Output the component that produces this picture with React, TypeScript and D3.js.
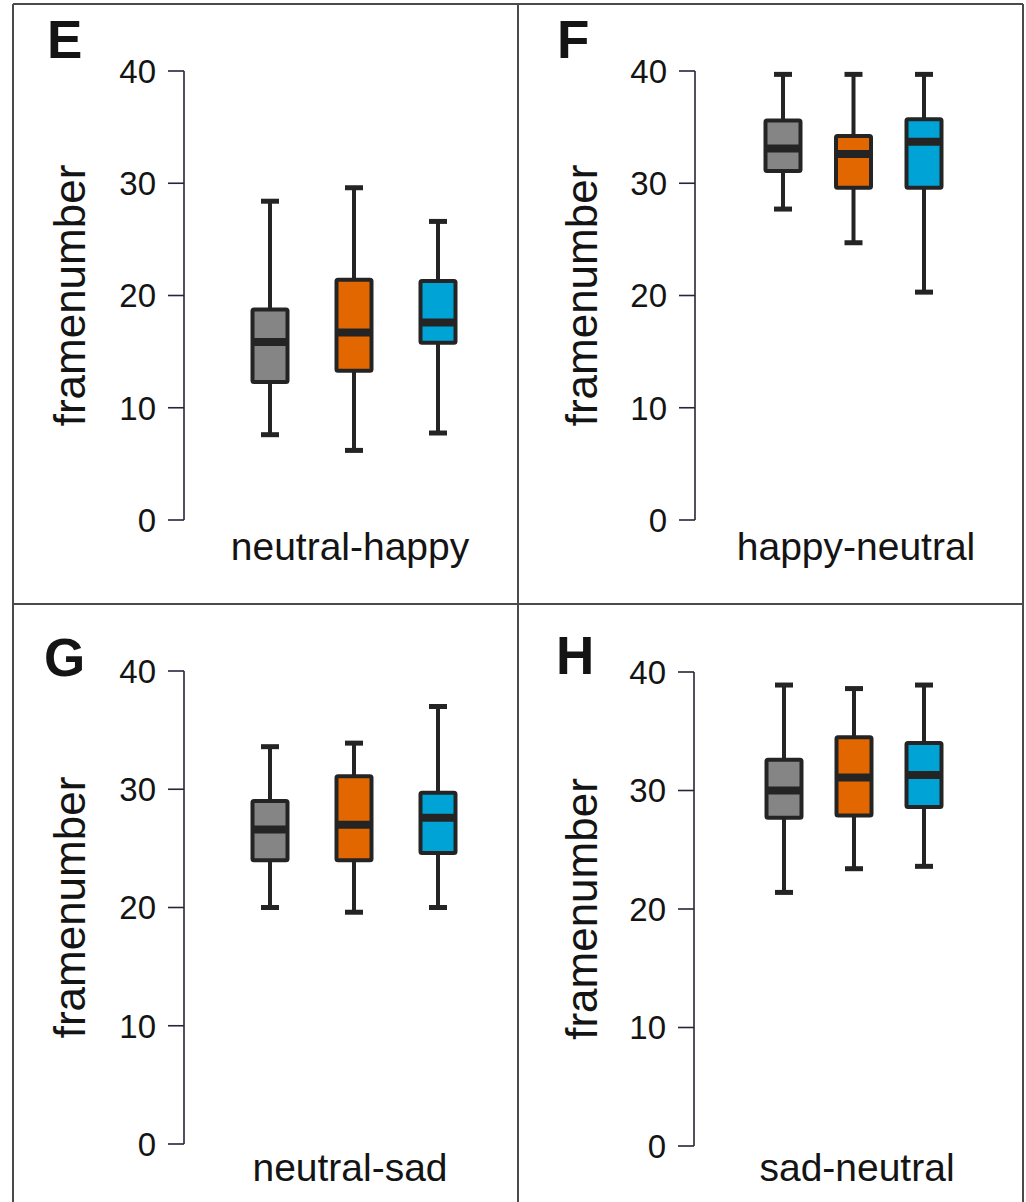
import React from "react";
import * as d3 from "d3";

// ---- data ----
const panelLetters = ["E", "F", "G", "H"];
const conditions = ["neutral-happy", "happy-neutral", "neutral-sad", "sad-neutral"];
const groups = ["g1", "g2", "g3"];
const groupColors = ["#858585", "#E36700", "#00A3D6"];
const yTicks = [0, 10, 20, 30, 40];
const yLabel = "framenumber";

const whiskerMin = [
  [7.6, 6.2, 7.75],
  [27.7, 24.7, 20.3],
  [20.0, 19.6, 20.0],
  [21.4, 23.4, 23.6],
];
const q1 = [
  [12.3, 13.3, 15.8],
  [31.1, 29.6, 29.6],
  [24.0, 24.0, 24.6],
  [27.7, 27.9, 28.6],
];
const median = [
  [15.85, 16.7, 17.6],
  [33.1, 32.6, 33.7],
  [26.6, 27.0, 27.6],
  [30.0, 31.1, 31.3],
];
const q3 = [
  [18.75, 21.4, 21.3],
  [35.6, 34.2, 35.7],
  [29.0, 31.1, 29.7],
  [32.6, 34.5, 34.0],
];
const whiskerMax = [
  [28.4, 29.6, 26.6],
  [39.7, 39.7, 39.7],
  [33.6, 33.9, 37.0],
  [38.9, 38.6, 38.9],
];

// ---- layout ----
const W = 1026;
const H = 1202;
const FONT = "'Liberation Sans', Arial, Helvetica, sans-serif";
const TXT = "#141414";
const STROKE = "#242424";

type Layout = {
  axisX: number;
  yTop: number;
  yBottom: number;
  xFirst: number;
  xLast: number;
  letterX: number;
  letterY: number;
  yLabelX: number;
  xLabelX: number;
  xLabelY: number;
};

const layouts: Layout[] = [
  { axisX: 184, yTop: 71, yBottom: 520, xFirst: 270, xLast: 438, letterX: 47, letterY: 58, yLabelX: 85, xLabelX: 350, xLabelY: 560 },
  { axisX: 695, yTop: 71, yBottom: 520, xFirst: 783, xLast: 924, letterX: 557, letterY: 58, yLabelX: 597, xLabelX: 856, xLabelY: 560 },
  { axisX: 184, yTop: 671, yBottom: 1144, xFirst: 270, xLast: 438, letterX: 44, letterY: 676, yLabelX: 85, xLabelX: 350, xLabelY: 1181 },
  { axisX: 694, yTop: 672, yBottom: 1146, xFirst: 784, xLast: 924, letterX: 556, letterY: 674, yLabelX: 597, xLabelX: 857, xLabelY: 1181 },
];

function Panel({ idx }: { idx: number }) {
  const L = layouts[idx];
  const y = d3.scaleLinear().domain([0, 40]).range([L.yBottom, L.yTop]);
  const x = d3.scalePoint<string>().domain(groups).range([L.xFirst, L.xLast]);
  const boxW = 35;
  const capW = 18;
  const tickLen = 16;
  return (
    <g>
      <text x={L.letterX} y={L.letterY} fontFamily={FONT} fontWeight="bold" fontSize={53} fill={TXT}>
        {panelLetters[idx]}
      </text>
      {/* y axis */}
      <line x1={L.axisX} x2={L.axisX} y1={y(40)} y2={y(0)} stroke="#2a2438" strokeWidth={1.6} />
      {yTicks.map((t) => (
        <g key={t}>
          <line x1={L.axisX - tickLen} x2={L.axisX} y1={y(t)} y2={y(t)} stroke="#2a2438" strokeWidth={1.6} />
          <text
            x={L.axisX - tickLen - 12}
            y={y(t)}
            dy="0.36em"
            textAnchor="end"
            fontFamily={FONT}
            fontSize={33}
            fill={TXT}
          >
            {t}
          </text>
        </g>
      ))}
      <text
        transform={`translate(${L.yLabelX},${(y(0) + y(40)) / 2}) rotate(-90)`}
        textAnchor="middle"
        fontFamily={FONT}
        fontSize={44}
        fill={TXT}
      >
        {yLabel}
      </text>
      <text x={L.xLabelX} y={L.xLabelY} textAnchor="middle" fontFamily={FONT} fontSize={39} fill={TXT}>
        {conditions[idx]}
      </text>
      {groups.map((g, gi) => {
        const cx = x(g) as number;
        return (
          <g key={g}>
            <line x1={cx} x2={cx} y1={y(whiskerMax[idx][gi])} y2={y(q3[idx][gi])} stroke={STROKE} strokeWidth={4} />
            <line x1={cx} x2={cx} y1={y(q1[idx][gi])} y2={y(whiskerMin[idx][gi])} stroke={STROKE} strokeWidth={4} />
            <line x1={cx - capW / 2} x2={cx + capW / 2} y1={y(whiskerMax[idx][gi])} y2={y(whiskerMax[idx][gi])} stroke={STROKE} strokeWidth={5} />
            <line x1={cx - capW / 2} x2={cx + capW / 2} y1={y(whiskerMin[idx][gi])} y2={y(whiskerMin[idx][gi])} stroke={STROKE} strokeWidth={5} />
            <rect
              x={cx - boxW / 2}
              y={y(q3[idx][gi])}
              width={boxW}
              height={y(q1[idx][gi]) - y(q3[idx][gi])}
              fill={groupColors[gi]}
              stroke={STROKE}
              strokeWidth={4}
              rx={1.5}
            />
            <line
              x1={cx - boxW / 2}
              x2={cx + boxW / 2}
              y1={y(median[idx][gi])}
              y2={y(median[idx][gi])}
              stroke={STROKE}
              strokeWidth={8}
            />
          </g>
        );
      })}
    </g>
  );
}

export default function App() {
  return (
    <svg
      width={W}
      height={H}
      viewBox={`0 0 ${W} ${H}`}
      style={{ position: "absolute", left: 0, top: 0, background: "#fff" }}
    >
      <rect x={0} y={0} width={W} height={H} fill="#fff" />
      {/* frame */}
      <g stroke="#4a4a4a" strokeWidth={2} fill="none">
        <line x1={13} x2={1023} y1={4} y2={4} />
        <line x1={13} x2={13} y1={4} y2={H} />
        <line x1={1023} x2={1023} y1={4} y2={H} />
        <line x1={518} x2={518} y1={4} y2={H} />
        <line x1={13} x2={1023} y1={604} y2={604} />
      </g>
      {panelLetters.map((_, i) => (
        <Panel key={i} idx={i} />
      ))}
    </svg>
  );
}
